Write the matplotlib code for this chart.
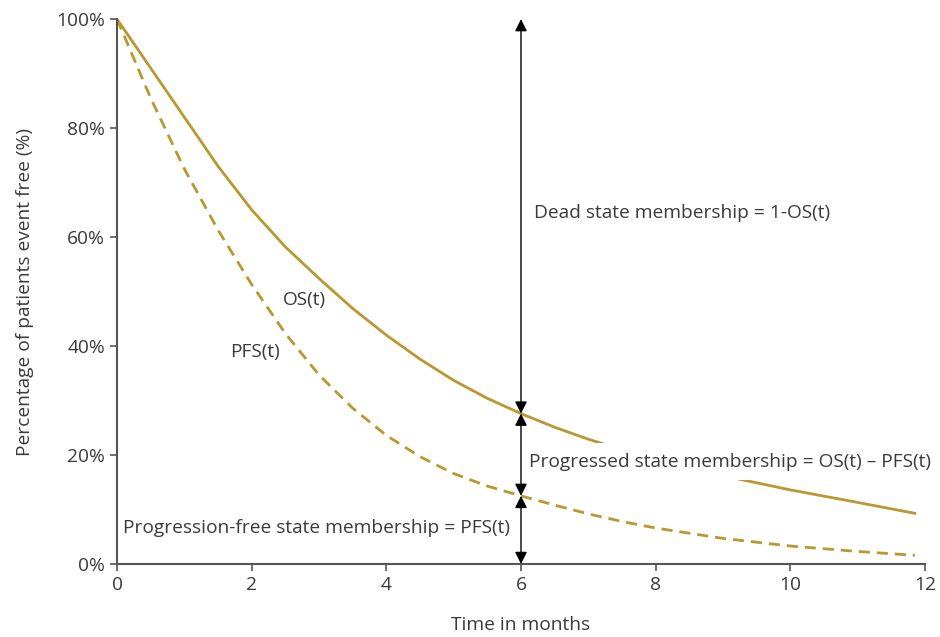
import numpy as np
import matplotlib
matplotlib.use('Agg')
import matplotlib.pyplot as plt

plt.rcParams['font.family'] = ['Open Sans', 'DejaVu Sans']

# values (months, % event free)
os_t = [0, 0.5, 1, 1.5, 2, 2.5, 3, 3.5, 4, 4.5, 5, 5.5, 6, 6.5, 7, 7.5, 8, 9, 10, 11, 11.85]
os_v = [100, 91, 82, 73, 65, 58.2, 52.4, 46.9, 42, 37.6, 33.7, 30.4, 27.6, 25.1, 22.9, 21, 19.3, 16.2, 13.6, 11.3, 9.3]

pfs_t = [0, 0.5, 1, 1.5, 2, 2.5, 3, 3.5, 4, 4.5, 5, 5.5, 6, 6.5, 7, 7.5, 8, 9, 10, 11, 11.85]
pfs_v = [100, 85.5, 72.5, 61.3, 51.3, 42.3, 34.7, 28.6, 23.6, 19.7, 16.6, 14.3, 12.5, 10.8, 9.2, 7.8, 6.6, 4.7, 3.3, 2.3, 1.6]

x_ticks = [0, 2, 4, 6, 8, 10, 12]
y_ticks = [0, 20, 40, 60, 80, 100]
y_labels = ['0%', '20%', '40%', '60%', '80%', '100%']

gold = '#BA982F'
grey = '#555555'
txt = '#3a3a3a'

fig = plt.figure(figsize=(9.4, 6.37), dpi=100)
ax = fig.add_axes([0.1245, 0.1146, 0.8595, 0.8554])

ax.plot(os_t, os_v, color=gold, lw=2, zorder=2)
ax.plot(pfs_t, pfs_v, color=gold, lw=2, ls=(0, (4, 2.5)), zorder=2)

# state membership arrows at t = 6
t_mark = 6
os6 = np.interp(t_mark, os_t, os_v)
pfs6 = np.interp(t_mark, pfs_t, pfs_v)
for lo, hi in [(os6, 100), (pfs6, os6), (0, pfs6)]:
    ax.annotate('', xy=(t_mark, hi), xytext=(t_mark, lo),
                arrowprops=dict(arrowstyle='<|-|>,head_length=0.6,head_width=0.3',
                                color='black', lw=1,
                                mutation_scale=12, shrinkA=0, shrinkB=0),
                zorder=4)

box = dict(facecolor='white', edgecolor='none', pad=7)
fs = 13.8
ax.text(6.2, 64.4, 'Dead state membership = 1-OS(t)', fontsize=fs, color=txt,
        va='center', ha='left', bbox=box, zorder=3)
ax.text(6.12, 18.8, 'Progressed state membership = OS(t) \u2013 PFS(t)', fontsize=fs,
        color=txt, va='center', ha='left', bbox=box, zorder=3)
ax.text(0.09, 6.6, 'Progression-free state membership = PFS(t)', fontsize=fs,
        color=txt, va='center', ha='left', bbox=box, zorder=3)
ax.text(2.47, 48.4, 'OS(t)', fontsize=fs, color=txt, va='center', ha='left')
ax.text(1.68, 38.9, 'PFS(t)', fontsize=fs, color=txt, va='center', ha='left')

ax.set_xlim(0, 12)
ax.set_ylim(0, 100)
ax.set_xticks(x_ticks)
ax.set_yticks(y_ticks)
ax.set_yticklabels(y_labels)
ax.tick_params(colors=grey, labelcolor=txt, labelsize=fs, length=5, width=1.2)
for s in ['top', 'right']:
    ax.spines[s].set_visible(False)
for s in ['left', 'bottom']:
    ax.spines[s].set_color(grey)
    ax.spines[s].set_linewidth(1.5)
    ax.spines[s].set_zorder(5)

ax.set_xlabel('Time in months', fontsize=fs, color=txt, labelpad=16)
ax.set_ylabel('Percentage of patients event free (%)', fontsize=fs, color=txt, labelpad=16)

fig.savefig('out.png', dpi=100)
